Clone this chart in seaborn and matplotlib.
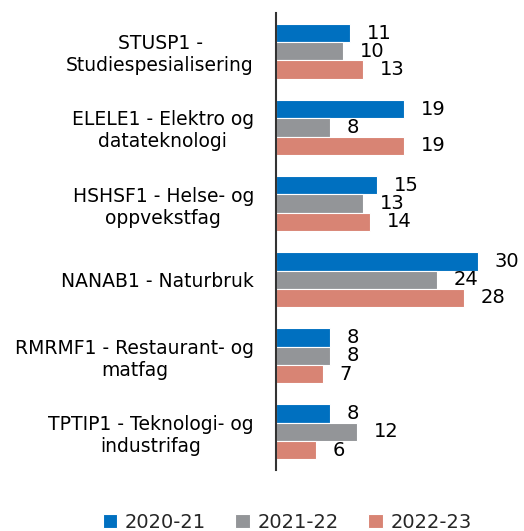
import pandas as pd
import numpy as np
import matplotlib.pyplot as plt
import seaborn as sns

sns.set_style("white")
plt.rcParams['font.family'] = ['DejaVu Sans']

categories = ['STUSP1 -\nStudiespesialisering',
              'ELELE1 - Elektro og\ndatateknologi',
              'HSHSF1 - Helse- og\noppvekstfag',
              'NANAB1 - Naturbruk',
              'RMRMF1 - Restaurant- og\nmatfag',
              'TPTIP1 - Teknologi- og\nindustrifag']
years = ['2020-21', '2021-22', '2022-23']
v_2020 = [11, 19, 15, 30, 8, 8]
v_2021 = [10, 8, 13, 24, 8, 12]
v_2022 = [13, 19, 14, 28, 7, 6]
colors = ['#0070C0', '#939598', '#D88474']

df = pd.DataFrame({
    'Program': categories * 3,
    'Year': [y for y in years for _ in categories],
    'Antall': v_2020 + v_2021 + v_2022,
})

fig = plt.figure(figsize=(5.24, 5.31), dpi=100)
ax = fig.add_axes([0.527, 0.115, 0.423, 0.86])
sns.barplot(data=df, y='Program', x='Antall', hue='Year', orient='h',
            palette=colors, saturation=1, width=0.72, edgecolor='white',
            linewidth=0.8, ax=ax)

for cont in ax.containers:
    ax.bar_label(cont, padding=12, fontsize=14, color='black')

ax.set_xlim(0, 33)
ax.set_xlabel('')
ax.set_ylabel('')
ax.set_xticks([])
for s in ['top', 'right', 'bottom']:
    ax.spines[s].set_visible(False)
ax.spines['left'].set_color('#333333')
ax.spines['left'].set_linewidth(1.5)
ax.tick_params(axis='y', length=0, pad=16, colors='black')
for lab in ax.get_yticklabels():
    lab.set_fontsize(13.5)
    lab.set_multialignment('center')

ax.legend(loc='upper center', bbox_to_anchor=(0.05, -0.055), ncol=3,
          frameon=False, fontsize=14, handlelength=0.75, handleheight=0.75,
          handletextpad=0.4, columnspacing=1.5)

fig.savefig('out.png', dpi=100)
